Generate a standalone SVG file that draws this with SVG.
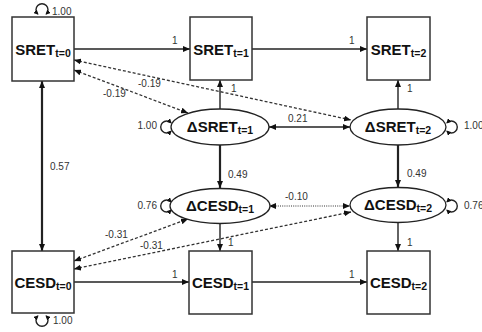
<svg xmlns="http://www.w3.org/2000/svg" width="482" height="332" viewBox="0 0 482 332">
  <style>
    .box { fill: #fff; stroke: #333; stroke-width: 1.5; }
    .ell { fill: #fff; stroke: #222; stroke-width: 1.3; }
    .lbl { font-family: "Liberation Sans", Arial, sans-serif; font-weight: bold; font-size: 15px; fill: #111; }
    .sub { font-size: 10.5px; }
    .num { font-family: "Liberation Sans", Arial, sans-serif; font-size: 10px; fill: #333; }
    .solid { fill: none; stroke: #222; stroke-width: 1.4; }
    .thick { fill: none; stroke: #222; stroke-width: 2.2; }
    .dash { fill: none; stroke: #333; stroke-width: 1.3; stroke-dasharray: 3 2; }
    .dot { fill: none; stroke: #333; stroke-width: 1; stroke-dasharray: 1 1.2; }
    .loop { fill: none; stroke: #222; stroke-width: 1.4; }
  </style>
  <defs>
    <marker id="arr" viewBox="0 0 7 6" refX="7" refY="3" markerWidth="7" markerHeight="6" markerUnits="userSpaceOnUse" orient="auto-start-reverse">
      <path d="M0,0 L7,3 L0,6 z" fill="#111"/>
    </marker>
    <marker id="arrS" viewBox="0 0 5 5" refX="4" refY="2.5" markerWidth="5" markerHeight="5" markerUnits="userSpaceOnUse" orient="auto-start-reverse">
      <path d="M0,0 L5,2.5 L0,5 z" fill="#111"/>
    </marker>
  </defs>

  <!-- connectors -->
  <g id="connectors">
    <!-- SRET chain -->
    <line class="solid" x1="74" y1="49" x2="190" y2="49" marker-end="url(#arr)"/>
    <line class="solid" x1="252" y1="49" x2="367" y2="49" marker-end="url(#arr)"/>
    <!-- CESD chain -->
    <line class="solid" x1="74" y1="282" x2="189" y2="282" marker-end="url(#arr)"/>
    <line class="solid" x1="252" y1="282" x2="367" y2="282" marker-end="url(#arr)"/>
    <!-- change scores feeding later measures -->
    <line class="solid" x1="220" y1="109" x2="220" y2="80" marker-end="url(#arr)"/>
    <line class="solid" x1="398" y1="109" x2="398" y2="80" marker-end="url(#arr)"/>
    <line class="solid" x1="220" y1="224" x2="220" y2="251" marker-end="url(#arr)"/>
    <line class="solid" x1="398" y1="223" x2="398" y2="251" marker-end="url(#arr)"/>
    <!-- SRET change to CESD change -->
    <line class="thick" x1="220" y1="145" x2="220" y2="188" marker-end="url(#arr)"/>
    <line class="thick" x1="398" y1="145" x2="398" y2="187" marker-end="url(#arr)"/>
    <!-- baseline covariance -->
    <line class="thick" x1="42" y1="81" x2="42" y2="251" marker-start="url(#arr)" marker-end="url(#arr)"/>
    <!-- change covariances -->
    <line class="solid" x1="269" y1="127" x2="350" y2="127" marker-start="url(#arr)" marker-end="url(#arr)"/>
    <line class="dot" x1="269" y1="206" x2="350" y2="206" marker-start="url(#arr)" marker-end="url(#arr)"/>
    <!-- baseline to change covariances -->
    <line class="dash" x1="74" y1="60" x2="351" y2="120" marker-start="url(#arr)" marker-end="url(#arr)"/>
    <line class="dash" x1="74" y1="70" x2="188" y2="113" marker-start="url(#arr)" marker-end="url(#arr)"/>
    <line class="dash" x1="74" y1="261" x2="188" y2="219" marker-start="url(#arr)" marker-end="url(#arr)"/>
    <line class="dash" x1="74" y1="269" x2="351" y2="212" marker-start="url(#arr)" marker-end="url(#arr)"/>
    <!-- variances -->
    <path class="loop" d="M37.8,14 A6,6 0 1 1 46.2,14" marker-start="url(#arrS)" marker-end="url(#arrS)"/>
    <path class="loop" d="M37.8,316 A6,6 0 1 0 46.2,316" marker-start="url(#arrS)" marker-end="url(#arrS)"/>
    <path class="loop" d="M171,122.8 A6,6 0 1 0 171,131.2" marker-start="url(#arrS)" marker-end="url(#arrS)"/>
    <path class="loop" d="M171,201.8 A6,6 0 1 0 171,210.2" marker-start="url(#arrS)" marker-end="url(#arrS)"/>
    <path class="loop" d="M447,122.8 A6,6 0 1 1 447,131.2" marker-start="url(#arrS)" marker-end="url(#arrS)"/>
    <path class="loop" d="M447,201.8 A6,6 0 1 1 447,210.2" marker-start="url(#arrS)" marker-end="url(#arrS)"/>

    <!-- path estimates -->
    <text class="num" x="172" y="44">1</text>
    <text class="num" x="349" y="44">1</text>
    <text class="num" x="172" y="278">1</text>
    <text class="num" x="349" y="278">1</text>
    <text class="num" x="231" y="92">1</text>
    <text class="num" x="407" y="92">1</text>
    <text class="num" x="228" y="246">1</text>
    <text class="num" x="407" y="246">1</text>
    <text class="num" x="228" y="178">0.49</text>
    <text class="num" x="407" y="177">0.49</text>
    <text class="num" x="50" y="170">0.57</text>
    <text class="num" x="288" y="122">0.21</text>
    <text class="num" x="285" y="200">-0.10</text>
    <text class="num" x="138" y="87">-0.19</text>
    <text class="num" x="103" y="97">-0.19</text>
    <text class="num" x="105" y="238">-0.31</text>
    <text class="num" x="140" y="249">-0.31</text>
    <text class="num" x="52" y="15">1.00</text>
    <text class="num" x="53" y="324">1.00</text>
    <text class="num" x="157" y="128.5" text-anchor="end">1.00</text>
    <text class="num" x="157" y="209" text-anchor="end">0.76</text>
    <text class="num" x="464" y="128.5">1.00</text>
    <text class="num" x="464" y="209">0.76</text>
  </g>

  <!-- observed measures -->
  <g id="sret0">
    <rect class="box" x="12" y="17" width="62" height="64"/>
    <text class="lbl" x="43" y="55" text-anchor="middle">SRET<tspan class="sub" dy="2">t=0</tspan></text>
  </g>
  <g id="sret1">
    <rect class="box" x="190" y="17" width="62" height="63"/>
    <text class="lbl" x="221" y="55" text-anchor="middle">SRET<tspan class="sub" dy="2">t=1</tspan></text>
  </g>
  <g id="sret2">
    <rect class="box" x="367" y="17" width="63" height="63"/>
    <text class="lbl" x="398.5" y="55" text-anchor="middle">SRET<tspan class="sub" dy="2">t=2</tspan></text>
  </g>
  <g id="cesd0">
    <rect class="box" x="12" y="251" width="62" height="62"/>
    <text class="lbl" x="43" y="288" text-anchor="middle">CESD<tspan class="sub" dy="2">t=0</tspan></text>
  </g>
  <g id="cesd1">
    <rect class="box" x="189" y="251" width="63" height="63"/>
    <text class="lbl" x="220.5" y="288" text-anchor="middle">CESD<tspan class="sub" dy="2">t=1</tspan></text>
  </g>
  <g id="cesd2">
    <rect class="box" x="367" y="251" width="63" height="63"/>
    <text class="lbl" x="398.5" y="288" text-anchor="middle">CESD<tspan class="sub" dy="2">t=2</tspan></text>
  </g>

  <!-- latent change scores -->
  <g id="dsret1">
    <ellipse class="ell" cx="220" cy="127" rx="49" ry="18"/>
    <text class="lbl" x="220" y="132" text-anchor="middle">ΔSRET<tspan class="sub" dy="2">t=1</tspan></text>
  </g>
  <g id="dsret2">
    <ellipse class="ell" cx="398" cy="127" rx="48" ry="18"/>
    <text class="lbl" x="398" y="132" text-anchor="middle">ΔSRET<tspan class="sub" dy="2">t=2</tspan></text>
  </g>
  <g id="dcesd1">
    <ellipse class="ell" cx="220" cy="206" rx="50" ry="17.5"/>
    <text class="lbl" x="220" y="211" text-anchor="middle">ΔCESD<tspan class="sub" dy="2">t=1</tspan></text>
  </g>
  <g id="dcesd2">
    <ellipse class="ell" cx="398" cy="205" rx="48" ry="17.5"/>
    <text class="lbl" x="398" y="210" text-anchor="middle">ΔCESD<tspan class="sub" dy="2">t=2</tspan></text>
  </g>
</svg>
